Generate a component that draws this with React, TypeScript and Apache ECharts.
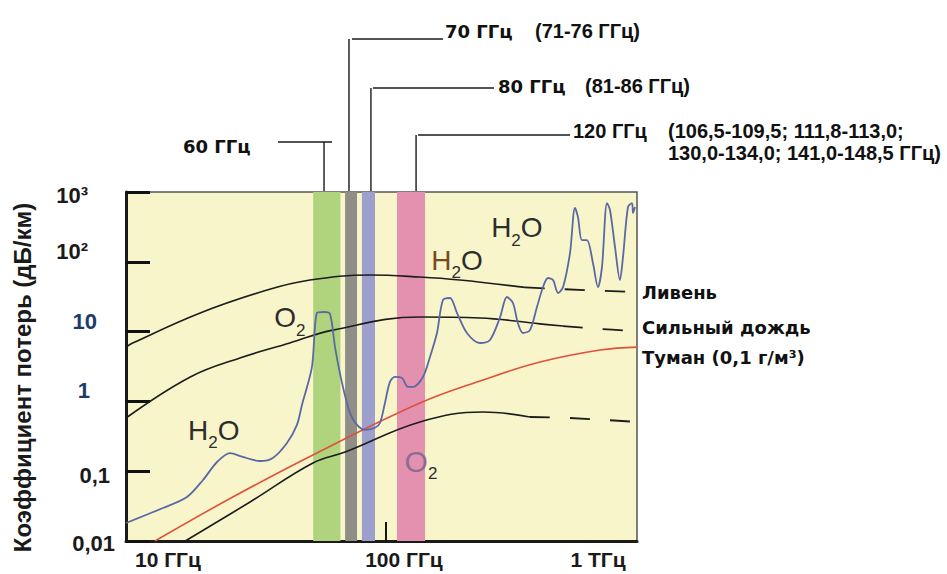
import React, { useEffect, useRef } from "react";
import * as echarts from "echarts";

// ---------------- data ----------------
const xMin = 7.83; // GHz, left edge of the plot
const xMax = 1170; // GHz, right edge of the plot
const yMin = 0.01;
const yMax = 1000;

const xTickLabels = ["10 ГГц", "100 ГГц", "1 ТГц"]; // at 10, 100, 1000 GHz
const yTickLabels = ["0,01", "0,1", "1", "10", "10²", "10³"]; // 0.01 ... 1000

// Downpour (Ливень)
const downpourSolid: [number, number][] = [
  [7.83, 6.0], [8.4, 6.9], [16.2, 18.5], [31.2, 39.4], [47.5, 54.8],
  [85.5, 64.7], [139.5, 60.5], [206, 54.8], [390, 43.0],
];
const downpourDashed: [number, number][] = [
  [390, 43.0], [550, 40.7], [1170, 36.9],
];

// Heavy rain (Сильный дождь)
const heavyRainSolid: [number, number][] = [
  [7.83, 0.578], [14.7, 2.24], [23.9, 4.19], [39.0, 6.87], [59.4, 10.5],
  [139.5, 16.2], [251, 15.7], [452, 12.9], [566, 12.0],
];
const heavyRainDashed: [number, number][] = [
  [566, 12.0], [815, 10.9], [1170, 10.2],
];

// Lowest (unlabelled) rain curve
const drizzleSolid: [number, number][] = [
  [14.0, 0.01], [26.4, 0.0362], [48.9, 0.131], [67.0, 0.188],
  [139.5, 0.507], [259, 0.705], [410, 0.598],
];
const drizzleDashed: [number, number][] = [
  [410, 0.598], [607, 0.578], [1170, 0.507],
];

// Fog (Туман 0,1 г/м³)
const fogLine: [number, number][] = [
  [10.4, 0.01], [22.3, 0.0427], [48.9, 0.171], [139.5, 0.948],
  [259, 2.03], [452, 3.66], [815, 5.45], [1170, 6.0],
];

// Atmospheric gas absorption (blue)
const absorption: [number, number][] = [
  [7.83, 0.0181], [11.25, 0.0297], [14.23, 0.0427], [16.65, 0.0748],
  [19.1, 0.1355], [21.7, 0.182], [24.6, 0.16], [29.1, 0.14], [33.0, 0.155],
  [37.9, 0.254], [41.8, 0.46], [43.9, 0.89], [48.4, 3.1], [50.9, 18.5],
  [54.5, 19.1], [57.8, 17.9], [60.7, 6.0], [65.0, 1.84], [70.3, 0.68],
  [75.3, 0.46], [81.4, 0.39], [89.8, 0.42], [94.3, 0.49], [99.0, 0.95],
  [104, 1.9], [109.2, 2.24], [117, 2.16], [124, 1.61], [130, 1.61],
  [143.7, 2.24], [153.9, 4.33], [164.8, 9.55], [174.8, 28.4], [187.3, 30.3],
  [200.5, 18.5], [221, 9.55], [251, 6.87], [277, 7.59], [306, 16.2],
  [327, 31.3], [347, 25.7], [364, 13.3], [383, 9.55], [410, 10.5],
  [439, 22.5], [466, 43.5], [489, 58.6], [514, 54.8], [540, 35.7],
  [567, 43.5], [607, 134], [637, 590], [656, 438], [682, 205], [716, 205],
  [760, 96], [798, 43.5], [830, 84], [872, 695], [898, 552], [943, 163],
  [990, 54.8], [1020, 117], [1071, 610], [1114, 695], [1125, 500], [1147, 610],
];

// Frequency bands (GHz)
const bandFrom = [49, 67, 79, 111.4];
const bandTo = [64, 75.3, 89.8, 146.6];

// Leader lines for the band captions (GHz where the line meets the plot)
const leaderFreqs = [54.5, 69.6, 86.3, 134.3];
const leaderTitles = ["60 ГГц", "70 ГГц", "80 ГГц", "120 ГГц"];
const leaderDetails = ["", "(71-76 ГГц)", "(81-86 ГГц)", "(106,5-109,5; 111,8-113,0;"];
const leaderDetails2 = ["", "", "", "130,0-134,0; 141,0-148,5 ГГц)"];

// Chemical labels (anchored at data coordinates)
const chemFormulas = ["O2", "H2O", "H2O", "H2O", "O2"];
const chemFreqs = [39.0, 18.5, 200.5, 360.6, 140.9];
const chemValues = [15.7, 0.389, 106, 305, 0.14];

// Small 100 GHz tick on the bottom axis
const tick100: [number, number][] = [[100, 0.01], [100, 0.0187]];

// ---------------- styles / layout ----------------
const bandColors = ["#b0d47e", "#8f8e87", "#9d9fcd", "#e491b0"];
const chemFirstStyle = ["b", "b", "bh", "b", "bp"];
const yLabelPad: number[][] = [
  [4, 1, 0, 0], [8, 6, 0, 0], [0, 26, 22, 0], [0, 19, 20, 0], [0, 28, 20, 0], [6, 28, 0, 0],
];
const yLabelColor = ["#1a1a1a", "#1a1a1a", "#203a68", "#203a68", "#1a1a1a", "#1a1a1a"];
const xLabelPad: number[][] = [[0, 0, 0, 34], [0, 0, 0, 36], [0, 46, 0, 0]];

const BOLD_ARIAL = "'Liberation Sans', Arial, sans-serif";
const BOLD_PIX = "'DejaVu Sans', 'Liberation Sans', sans-serif";

function chemRich(formula: string, first: string): string {
  return formula
    .split("")
    .map((ch, i) => (/[0-9]/.test(ch) ? `{s|${ch}}` : `{${i === 0 ? first : "b"}|${ch}}`))
    .join("");
}

function isDecade(v: number): number | null {
  const e = Math.log10(v);
  const r = Math.round(e);
  return Math.abs(e - r) < 1e-6 ? r : null;
}

export default function App() {
  const ref = useRef<HTMLDivElement>(null);

  useEffect(() => {
    if (!ref.current) return;
    const chart = echarts.init(ref.current, null, { renderer: "svg" });

    const yRich: Record<string, any> = {};
    yTickLabels.forEach((_, i) => {
      yRich["y" + i] = {
        fontFamily: BOLD_ARIAL,
        fontWeight: "bold",
        fontSize: 22,
        color: yLabelColor[i],
        padding: yLabelPad[i],
      };
    });
    const xRich: Record<string, any> = {};
    xTickLabels.forEach((_, i) => {
      xRich["x" + i] = {
        fontFamily: BOLD_ARIAL,
        fontWeight: "bold",
        fontSize: 21,
        color: "#1a1a1a",
        padding: xLabelPad[i],
      };
    });

    const blackLine = { color: "#1c1c1c", width: 1.6 };
    const dashedBlack = { color: "#1c1c1c", width: 1.8, type: [20, 20] as any };
    const endLabelBase = {
      show: true,
      distance: 5,
      fontFamily: BOLD_PIX,
      fontWeight: "bold",
      fontSize: 18,
      color: "#111",
    };

    const LH = 42;
    const chemFont = "'Liberation Sans', Arial, sans-serif";
    const chemLabelRich = {
      b: { fontFamily: chemFont, fontSize: 28, color: "#2d2d2d", lineHeight: LH },
      bh: { fontFamily: chemFont, fontSize: 28, color: "#7a4a26", lineHeight: LH },
      bp: { fontFamily: chemFont, fontSize: 30, color: "#8d6c94", lineHeight: LH },
      s: { fontFamily: chemFont, fontSize: 17, color: "#2d2d2d", lineHeight: LH, verticalAlign: "bottom" },
    };

    const option: any = {
      animation: false,
      backgroundColor: "#ffffff",
      grid: {
        left: 126,
        top: 192,
        right: 310,
        bottom: 33,
        show: true,
        backgroundColor: "#f8f5cb",
        borderColor: "#555",
        borderWidth: 1.5,
        outerBoundsMode: "none",
      },
      xAxis: {
        type: "log",
        logBase: 10,
        min: xMin,
        max: xMax,
        axisLine: { show: true, lineStyle: { color: "#1a1a1a", width: 3 } },
        axisTick: { show: false },
        splitLine: { show: false },
        axisLabel: {
          margin: 8,
          showMinLabel: false,
          showMaxLabel: false,
          formatter: (v: number) => {
            const e = isDecade(v);
            if (e === null || e < 1 || e > 3) return "";
            const i = e - 1;
            return `{x${i}|${xTickLabels[i]}}`;
          },
          rich: xRich,
        },
      },
      yAxis: {
        type: "log",
        logBase: 10,
        min: yMin,
        max: yMax,
        name: "Коэффициент потерь (дБ/км)",
        nameLocation: "middle",
        nameGap: 92,
        nameTextStyle: {
          fontFamily: BOLD_ARIAL,
          fontWeight: "bold",
          fontSize: 24,
          color: "#1a1a1a",
          padding: [0, 22, 0, 0],
        },
        axisLine: { show: true, lineStyle: { color: "#1a1a1a", width: 3 } },
        axisTick: { show: true, inside: true, length: 24, lineStyle: { color: "#111", width: 3 } },
        splitLine: { show: false },
        axisLabel: {
          margin: 10,
          formatter: (v: number) => {
            const e = isDecade(v);
            if (e === null) return "";
            const i = e + 2;
            return `{y${i}|${yTickLabels[i]}}`;
          },
          rich: yRich,
        },
      },
      series: [
        {
          name: "bands",
          type: "line",
          data: [],
          z: 1,
          silent: true,
          markArea: {
            silent: true,
            data: bandFrom.map((f, i) => [
              { xAxis: f, itemStyle: { color: bandColors[i], opacity: 1 } },
              { xAxis: bandTo[i] },
            ]),
          },
        },
        {
          name: "Ливень",
          type: "line",
          data: downpourSolid,
          symbol: "none",
          smooth: 0.4,
          z: 3,
          lineStyle: blackLine,
        },
        {
          name: "Ливень ",
          type: "line",
          data: downpourDashed,
          symbol: "none",
          smooth: 0.4,
          z: 3,
          lineStyle: dashedBlack,
          endLabel: { ...endLabelBase, formatter: "Ливень", offset: [0, 0] },
        },
        {
          name: "Сильный дождь",
          type: "line",
          data: heavyRainSolid,
          symbol: "none",
          smooth: 0.4,
          z: 3,
          lineStyle: blackLine,
        },
        {
          name: "Сильный дождь ",
          type: "line",
          data: heavyRainDashed,
          symbol: "none",
          smooth: 0.4,
          z: 3,
          lineStyle: dashedBlack,
          endLabel: { ...endLabelBase, formatter: "Сильный дождь", offset: [0, -3] },
        },
        {
          name: "drizzle",
          type: "line",
          data: drizzleSolid,
          symbol: "none",
          smooth: 0.4,
          z: 3,
          lineStyle: blackLine,
        },
        {
          name: "drizzle ",
          type: "line",
          data: drizzleDashed,
          symbol: "none",
          smooth: 0.4,
          z: 3,
          lineStyle: dashedBlack,
        },
        {
          name: "Туман",
          type: "line",
          data: fogLine,
          symbol: "none",
          smooth: 0.4,
          z: 4,
          lineStyle: { color: "#e0503c", width: 1.6 },
          endLabel: { ...endLabelBase, formatter: "Туман (0,1 г/м³)", offset: [0, 10] },
        },
        {
          name: "absorption",
          type: "line",
          data: absorption,
          symbol: "none",
          smooth: 0.3,
          z: 5,
          lineStyle: { color: "#5a69a6", width: 1.8 },
          markPoint: {
            silent: true,
            symbol: "circle",
            symbolSize: 0,
            label: { show: true, position: "inside", rich: chemLabelRich },
            data: chemFormulas.map((fm, i) => ({
              coord: [chemFreqs[i], chemValues[i]],
              label: { show: true, position: "inside", formatter: chemRich(fm, chemFirstStyle[i]), rich: chemLabelRich },
            })),
          },
        },
        {
          name: "tick100",
          type: "line",
          data: tick100,
          symbol: "none",
          z: 6,
          lineStyle: { color: "#111", width: 2 },
        },
      ],
    };

    chart.setOption(option);

    // leader lines & captions above the plot, x taken from the axis scale
    const gx = leaderFreqs.map((f) => Number(chart.convertToPixel({ xAxisIndex: 0 }, f)));
    const plotTop = 191;
    const lineStyle = { stroke: "#1a1a1a", lineWidth: 1.4 };
    const layout = [
      { y: 142, hFrom: 278, hTo: gx[0] + 8, tx: 183, ty: 146, dx: 0 },
      { y: 39, hFrom: gx[1] + 3, hTo: 443, tx: 445, ty: 31, dx: 535 },
      { y: 88, hFrom: gx[2] + 2, hTo: 494, tx: 498, ty: 86, dx: 585 },
      { y: 135, hFrom: gx[3] + 2, hTo: 570, tx: 573, ty: 131, dx: 668 },
    ];
    const graphics: any[] = [];
    layout.forEach((L, i) => {
      graphics.push({
        type: "line",
        silent: true,
        shape: { x1: gx[i], y1: L.y, x2: gx[i], y2: plotTop },
        style: lineStyle,
      });
      graphics.push({
        type: "line",
        silent: true,
        shape: { x1: L.hFrom, y1: L.y, x2: L.hTo, y2: L.y },
        style: lineStyle,
      });
      graphics.push({
        type: "text",
        silent: true,
        x: L.tx,
        y: L.ty,
        style: {
          text: leaderTitles[i],
          fontFamily: i === 3 ? BOLD_ARIAL : BOLD_PIX,
          fontWeight: "bold",
          fontSize: i === 3 ? 20 : 18,
          fill: "#111",
          align: "left",
          verticalAlign: "middle",
        },
      });
      if (leaderDetails[i]) {
        graphics.push({
          type: "text",
          silent: true,
          x: L.dx,
          y: L.ty,
          style: {
            text: leaderDetails[i],
            fontFamily: BOLD_ARIAL,
            fontWeight: "bold",
            fontSize: 20,
            fill: "#111",
            align: "left",
            verticalAlign: "middle",
          },
        });
      }
      if (leaderDetails2[i]) {
        graphics.push({
          type: "text",
          silent: true,
          x: L.dx,
          y: L.ty + 22,
          style: {
            text: leaderDetails2[i],
            fontFamily: BOLD_ARIAL,
            fontWeight: "bold",
            fontSize: 20,
            fill: "#111",
            align: "left",
            verticalAlign: "middle",
          },
        });
      }
    });
    chart.setOption({ graphic: graphics });

    return () => chart.dispose();
  }, []);

  return (
    <div
      ref={ref}
      style={{ position: "fixed", left: 0, top: 0, width: 947, height: 574, background: "#fff" }}
    />
  );
}
